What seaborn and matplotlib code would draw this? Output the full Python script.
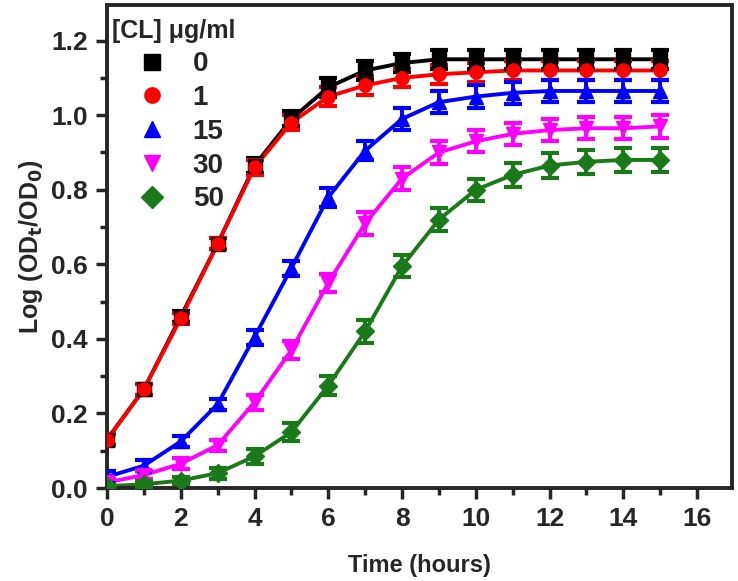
import numpy as np
import pandas as pd
import matplotlib
matplotlib.use("Agg")
import matplotlib.pyplot as plt
import seaborn as sns
from matplotlib.lines import Line2D
from matplotlib.ticker import MultipleLocator

sns.set_style("ticks")
plt.rcParams['font.family'] = ['Liberation Sans', 'DejaVu Sans']
plt.rcParams['font.weight'] = 'bold'
plt.rcParams['mathtext.default'] = 'bf'

time_h = list(range(16))
conc_labels = ["0", "1", "15", "30", "50"]
colors = ["#000000", "#ff0000", "#0000ff", "#ff00ff", "#1a7a1a"]
markers = ["s", "o", "^", "v", "D"]

od_0 = [0.13, 0.265, 0.46, 0.655, 0.865, 0.99, 1.075, 1.12, 1.14, 1.15, 1.15, 1.15, 1.15, 1.15, 1.15, 1.15]
od_1 = [0.13, 0.265, 0.455, 0.655, 0.86, 0.98, 1.05, 1.08, 1.10, 1.11, 1.115, 1.12, 1.12, 1.12, 1.12, 1.12]
od_15 = [0.03, 0.06, 0.125, 0.225, 0.405, 0.59, 0.78, 0.905, 0.99, 1.035, 1.05, 1.06, 1.065, 1.065, 1.065, 1.065]
od_30 = [0.015, 0.035, 0.065, 0.115, 0.23, 0.37, 0.55, 0.71, 0.83, 0.90, 0.93, 0.95, 0.96, 0.965, 0.965, 0.97]
od_50 = [0.005, 0.01, 0.02, 0.04, 0.085, 0.15, 0.275, 0.42, 0.595, 0.72, 0.80, 0.84, 0.865, 0.875, 0.88, 0.88]

err_0 = [0.015, 0.015, 0.015, 0.015, 0.02, 0.02, 0.025, 0.025, 0.025, 0.025, 0.025, 0.025, 0.025, 0.025, 0.025, 0.025]
err_1 = [0.015, 0.015, 0.015, 0.015, 0.02, 0.02, 0.025, 0.025, 0.025, 0.025, 0.025, 0.025, 0.025, 0.025, 0.025, 0.025]
err_15 = [0.015, 0.015, 0.015, 0.015, 0.02, 0.02, 0.025, 0.025, 0.03, 0.03, 0.03, 0.03, 0.03, 0.03, 0.03, 0.03]
err_30 = [0.01, 0.01, 0.015, 0.015, 0.02, 0.025, 0.025, 0.03, 0.03, 0.03, 0.03, 0.03, 0.03, 0.03, 0.03, 0.03]
err_50 = [0.005, 0.01, 0.01, 0.015, 0.02, 0.025, 0.025, 0.03, 0.03, 0.03, 0.03, 0.033, 0.033, 0.033, 0.033, 0.033]

series = [od_0, od_1, od_15, od_30, od_50]
errors = [err_0, err_1, err_15, err_30, err_50]

rows = []
for lab, vals, errs in zip(conc_labels, series, errors):
    for t, v, e in zip(time_h, vals, errs):
        rows.append({"Time": t, "OD": v, "err": e, "CL": lab})
df = pd.DataFrame(rows)

fig = plt.figure(figsize=(7.38, 5.81), dpi=100)
ax = fig.add_axes([0.145, 0.160, 0.847, 0.831])

palette = dict(zip(conc_labels, colors))
sns.lineplot(data=df, x="Time", y="OD", hue="CL", palette=palette,
             linewidth=2.8, legend=False, ax=ax, errorbar=None, sort=True)

for lab, col, mk in zip(conc_labels, colors, markers):
    sub = df[df["CL"] == lab]
    ax.errorbar(sub["Time"], sub["OD"], yerr=sub["err"], fmt=mk, color=col,
                markersize=9.5, capsize=6.5, capthick=3,
                elinewidth=2.8, zorder=3)

ax.set_xlim(0, 16.95)
ax.set_ylim(0, 1.295)
ax.xaxis.set_major_locator(MultipleLocator(2))
ax.xaxis.set_minor_locator(MultipleLocator(1))
ax.yaxis.set_major_locator(MultipleLocator(0.2))
ax.yaxis.set_minor_locator(MultipleLocator(0.1))
ax.yaxis.set_major_formatter(matplotlib.ticker.FormatStrFormatter("%.1f"))
ax.tick_params(which="major", direction="out", length=8, width=2.5, labelsize=19, pad=6)
ax.tick_params(which="minor", direction="out", length=5, width=2.5)
for lbl in ax.get_xticklabels() + ax.get_yticklabels():
    lbl.set_fontweight("bold")
for sp in ax.spines.values():
    sp.set_linewidth(2.8)
    sp.set_visible(True)

ax.set_xlabel("Time (hours)", fontsize=17, fontweight="bold", labelpad=16)
ax.set_ylabel(r"Log (OD$_t$/OD$_0$)", fontsize=18, fontweight="bold", labelpad=4)

handles = [Line2D([], [], linestyle="none", marker=mk, color=col, markersize=11)
           for col, mk in zip(colors, markers)]
leg = ax.legend(handles, conc_labels, title="[CL] \u03bcg/ml", loc="upper left",
                frameon=False, fontsize=20, title_fontsize=18,
                bbox_to_anchor=(-0.018, 1.005), handletextpad=0.45,
                labelspacing=0.28, borderaxespad=0.2)
leg.get_title().set_fontweight("bold")
for t in leg.get_texts():
    t.set_fontweight("bold")

fig.savefig("out.png", dpi=100)
